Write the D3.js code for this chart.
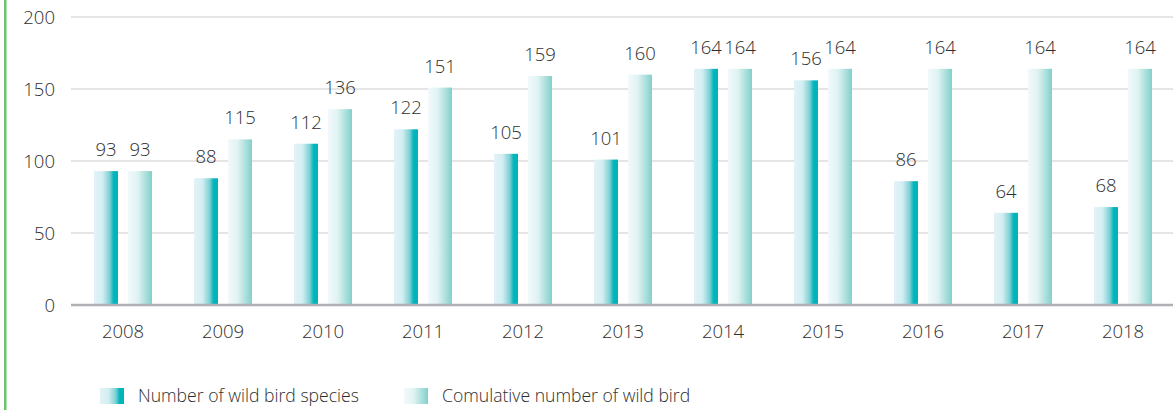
<!DOCTYPE html>
<html><head><meta charset="utf-8">
<script src="https://cdn.jsdelivr.net/npm/d3@7"></script>
<style>
html,body{margin:0;padding:0;background:#fff;}
svg{display:block;font-family:"Open Sans",sans-serif;font-weight:300;}
</style></head>
<body><svg id="c" width="1173" height="410"></svg>
<script>
const years = ["2008","2009","2010","2011","2012","2013","2014","2015","2016","2017","2018"];
const speciesCount = [93,88,112,122,105,101,164,156,86,64,68];
const cumulativeCount = [93,115,136,151,159,160,164,164,164,164,164];
const yTicks = [0,50,100,150,200];
const seriesNames = ["Number of wild bird species","Comulative number of wild bird"];

const svg = d3.select("#c");
const W = 1173, H = 410;
const x = d3.scaleBand().domain(years).range([73, 1173]);
const y = d3.scaleLinear().domain([0,200]).range([305, 17]);

const defs = svg.append("defs");
function grad(id, stops){
  const g = defs.append("linearGradient").attr("id", id).attr("x1","0%").attr("x2","100%").attr("y1","0%").attr("y2","0%");
  stops.forEach(s => g.append("stop").attr("offset", s[0]).attr("stop-color", s[1]));
}
grad("g1", [["0%","#e2f3f8"],["35%","#d3eef2"],["65%","#7fd0d4"],["82%","#00b5bd"],["100%","#00b3bb"]]);
grad("g2", [["0%","#f3f9fc"],["40%","#e0f3f3"],["100%","#82d0ca"]]);

// green left border
svg.append("rect").attr("x",4).attr("y",0).attr("width",2.5).attr("height",H).attr("fill","#6ac46e");

// grid
svg.append("g").selectAll("line").data(yTicks.filter(d=>d>0)).join("line")
  .attr("x1",71).attr("x2",W).attr("y1",d=>y(d)).attr("y2",d=>y(d))
  .attr("stroke","#dcdcdc").attr("stroke-width",1.5);

// y labels
const yAxis = d3.axisLeft(y).tickValues(yTicks).tickSize(0).tickPadding(0);
const ya = svg.append("g").attr("transform","translate(55,0)").call(yAxis);
ya.select(".domain").remove();
ya.selectAll("text").attr("font-size",18.5).attr("fill","#2e2e2e").attr("font-family","Open Sans").attr("font-weight",300).attr("dy","0.34em");

const bw = 24;
const groups = svg.append("g");
groups.selectAll("rect.s1").data(years).join("rect").attr("class","s1")
  .attr("x",(d)=>x(d)+x.bandwidth()/2-29).attr("width",bw)
  .attr("y",(d,i)=>y(speciesCount[i])).attr("height",(d,i)=>y(0)-y(speciesCount[i]))
  .attr("fill","url(#g1)");
groups.selectAll("rect.s2").data(years).join("rect").attr("class","s2")
  .attr("x",(d)=>x(d)+x.bandwidth()/2+5).attr("width",bw)
  .attr("y",(d,i)=>y(cumulativeCount[i])).attr("height",(d,i)=>y(0)-y(cumulativeCount[i]))
  .attr("fill","url(#g2)");

// value labels
const lab = svg.append("g").attr("font-size",18.5).attr("fill","#2e2e2e").attr("text-anchor","middle");
lab.selectAll("text.l1").data(years).join("text").attr("class","l1")
  .attr("x",d=>x(d)+x.bandwidth()/2-17).attr("y",(d,i)=>y(speciesCount[i])-15)
  .text((d,i)=>speciesCount[i]);
lab.selectAll("text.l2").data(years).join("text").attr("class","l2")
  .attr("x",d=>x(d)+x.bandwidth()/2+17).attr("y",(d,i)=>y(cumulativeCount[i])-15)
  .text((d,i)=>cumulativeCount[i]);

// zero line
svg.append("line").attr("x1",71).attr("x2",W).attr("y1",y(0)).attr("y2",y(0)).attr("stroke","#b0b0b4").attr("stroke-width",2.5);

// x labels
const xAxis = d3.axisBottom(x).tickSize(0).tickPadding(0);
const xa = svg.append("g").attr("transform","translate(0,"+(y(0))+")").call(xAxis);
xa.select(".domain").remove();
xa.selectAll("text").attr("font-size",18.5).attr("fill","#2e2e2e").attr("font-family","Open Sans").attr("font-weight",300).attr("dy","33").attr("y",0);

// legend
const lg = svg.append("g");
const legX = [100, 404];
seriesNames.forEach((n,i)=>{
  lg.append("rect").attr("x",legX[i]).attr("y",388).attr("width",24).attr("height",16).attr("fill", i===0?"url(#g1)":"url(#g2)");
  lg.append("text").attr("x",legX[i]+38).attr("y",402).attr("font-size",17.6).attr("fill","#2e2e2e").text(n);
});
</script></body></html>
